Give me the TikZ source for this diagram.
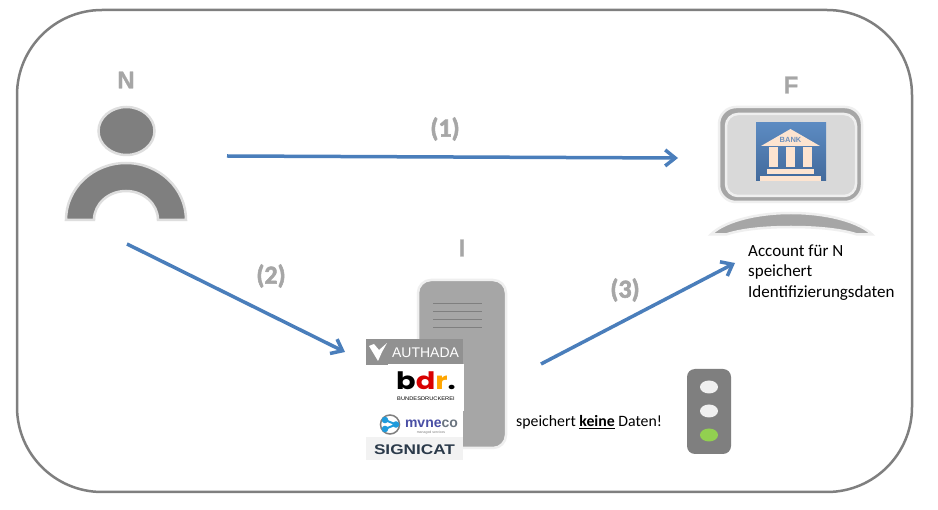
\documentclass[tikz,border=0pt]{standalone}
\usepackage{fontspec}
\setmainfont{Carlito}
\newfontfamily\logofont{Liberation Sans}
\newfontfamily\wordfont{Poppins}
\newfontfamily\heavyfont[BoldFeatures={FakeBold=2.2}]{Carlito}
\newfontfamily\actorfont[BoldFeatures={FakeBold=1}]{Liberation Sans}
\usetikzlibrary{arrows.meta}
\definecolor{framegray}{HTML}{7F7F7F}
\definecolor{shapegray}{HTML}{A6A6A6}
\definecolor{edgegray}{HTML}{EFEFEF}
\definecolor{flowblue}{HTML}{4A7EBB}
\definecolor{bankblue}{HTML}{4A76AD}
\definecolor{bankcream}{HTML}{FDE4D0}
\definecolor{mvblue}{HTML}{1F9BDC}
\definecolor{mvdark}{HTML}{4A4FA5}
\definecolor{signslate}{HTML}{2B3A4A}
\definecolor{lightgreen}{HTML}{92D050}
\begin{document}
\begin{tikzpicture}[x = 1pt, y = -1pt,
  actor/.style = {font = \actorfont\fontsize{24}{24}\selectfont\bfseries, text = shapegray, inner sep = 0pt},
  flowlabel/.style = {font = \heavyfont\fontsize{26}{26}\selectfont\bfseries, text = shapegray, inner sep = 0pt},
  note/.style = {font = \fontsize{15.8}{20.5}\selectfont, inner sep = 0pt, align = left},
  flow/.style = {draw = flowblue, line width = 3.5pt, -{Straight Barb[length = 10pt, width = 16pt, line width = 3.5pt]}},
  shapeedge/.style = {draw = edgegray, line width = 2.5pt, fill = shapegray}]

  \useasboundingbox (0, 0) rectangle (938, 510);

  \draw[framegray, line width = 2.5pt, rounded corners = 85pt, fill = white] (17, 10) rectangle (912, 492);

  % person
  \node[actor] (labelN) at (126, 80) { N };
  \draw[draw = black!13, line width = 2.5pt, fill = framegray] (126.5, 131) ellipse [x radius = 28, y radius = 24];
  \draw[draw = black!13, line width = 2.5pt, fill = framegray] (66, 220) arc [start angle = 180, end angle = 360, x radius = 60, y radius = 57]
    -- (158, 220) arc [start angle = 360, end angle = 180, x radius = 32, y radius = 29] -- cycle;

  % bank
  \node[actor] (labelF) at (791, 85) { F };
  \draw[shapeedge, rounded corners = 17pt] (719, 107) rectangle (862, 202);
  \draw[draw = edgegray, line width = 2.5pt, fill = black!15, rounded corners = 12pt] (726, 114) rectangle (856, 196);
  \shade[top color = flowblue!90!white, bottom color = bankblue!90!black] (756, 123) rectangle (826, 181);
  \fill[bankcream] (761, 146) -- (790.5, 129) -- (820, 146) -- cycle;
  \fill[bankcream] (769, 147) rectangle (778, 167);
  \fill[bankcream] (786, 147) rectangle (795, 167);
  \fill[bankcream] (803, 147) rectangle (812, 167);
  \fill[bankcream] (767, 169) rectangle (814, 174);
  \fill[bankcream] (760, 176) rectangle (821, 181);
  \node[font = \logofont\fontsize{7.5}{7.5}\selectfont\bfseries, text = bankblue!80, inner sep = 0pt] (bankText) at (790.5, 139.5) { BANK };
  \draw[shapeedge] (711, 234.5) .. controls (722, 223) and (752, 213) .. (791, 213) .. controls (830, 213) and (861, 223) .. (872, 234.5)
    -- (857, 234.5) .. controls (842, 229.5) and (818, 227) .. (791, 227) .. controls (764, 227) and (741, 229.5) .. (726, 234.5) -- cycle;
  \node[note, font = \fontsize{17}{20.5}\selectfont, anchor = north west] (accountNote) at (748, 244.5) { Account für N \\ speichert \\ Identifizierungsdaten };

  % server
  \node[actor] (labelI) at (462, 248) { I };
  \draw[shapeedge, rounded corners = 13pt] (418, 280) rectangle (506, 448);
  \draw[framegray, line width = 0.6pt] (433, 303) -- (482, 303);
  \draw[framegray, line width = 0.6pt] (433, 311) -- (482, 311);
  \draw[framegray, line width = 0.6pt] (433, 319) -- (482, 319);
  \draw[framegray, line width = 0.6pt] (433, 327) -- (482, 327);

  % logos
  \fill[black!43] (366, 339) rectangle (463, 365);
  \fill[white] (388, 364) rectangle (464, 411);
  \fill[white] (366, 411) rectangle (463, 437);
  \fill[black!5] (366, 437) rectangle (463, 460);
  \fill[white] (369, 346) -- (374, 344) -- (379, 350) -- (387, 343) -- (382, 352) -- (378, 361) -- cycle;
  \node[font = \logofont\fontsize{14}{14}\selectfont, text = white, inner sep = 0pt] (authada) at (425.5, 352.5) { AUTHADA };
  \node[font = \wordfont\fontsize{24}{24}\selectfont\bfseries, inner sep = 0pt] (bdr) at (426, 380.5) { \scalebox{1.2}[1]{b\textcolor{red!85!black}{d}\textcolor{orange!70!yellow}{r}.} };
  \node[font = \logofont\fontsize{5.2}{5.2}\selectfont, inner sep = 0pt] (bdrName) at (426, 399) { \scalebox{1.1}[1]{BUNDESDRUCKEREI} };
  \draw[black!50, line width = 1.5pt] (390, 424.5) circle [radius = 9.5];
  \draw[mvblue, line width = 2pt] (385, 420) -- (396, 424.5) -- (385, 429);
  \fill[mvblue] (385, 420) circle [radius = 3.3];
  \fill[mvblue] (385, 429) circle [radius = 3.3];
  \fill[mvblue] (396, 424.5) circle [radius = 3.3];
  \node[font = \logofont\fontsize{14}{14}\selectfont\bfseries, inner sep = 0pt, text = mvdark] (mvneco) at (431.5, 424) { mvne\textcolor{signslate!70}{co} };
  \node[font = \logofont\fontsize{3.5}{3.5}\selectfont, inner sep = 0pt, text = framegray] (mvnecoSub) at (431, 432.5) { managed services };
  \node[font = \logofont\fontsize{14}{14}\selectfont\bfseries, inner sep = 0pt, text = signslate] (signicat) at (414.5, 449.5) { \scalebox{1.23}[1]{SIGNICAT} };

  \node[note, anchor = west] (storeNote) at (516, 422) { speichert \underline{\textbf{keine}} Daten! };

  % traffic light
  \fill[framegray, rounded corners = 8pt] (687, 369) rectangle (731, 454);
  \fill[black!6] (709, 387) ellipse [x radius = 9, y radius = 6.5];
  \fill[black!6] (709, 411) ellipse [x radius = 9, y radius = 6.5];
  \fill[lightgreen] (709, 435) ellipse [x radius = 9, y radius = 6.5];

  % flows
  \coordinate (flowOneStart) at (227, 156);
  \coordinate (flowOneEnd) at (678, 158);
  \coordinate (flowTwoStart) at (127, 244);
  \coordinate (flowTwoEnd) at (345, 352);
  \coordinate (flowThreeStart) at (541, 364);
  \coordinate (flowThreeEnd) at (735, 263);

  \draw[flow] (flowOneStart) -- (flowOneEnd);
  \draw[flow] (flowTwoStart) -- (flowTwoEnd);
  \draw[flow] (flowThreeStart) -- (flowThreeEnd);

  \node[flowlabel] (labelOne) at (445, 129) { (1) };
  \node[flowlabel] (labelTwo) at (271, 276) { (2) };
  \node[flowlabel] (labelThree) at (625, 290) { (3) };

\end{tikzpicture}
\end{document}
